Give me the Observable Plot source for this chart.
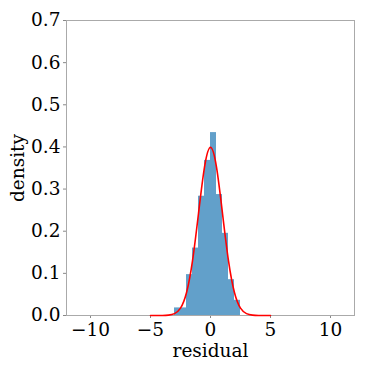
<!DOCTYPE html>
<html><head><meta charset="utf-8">
<script src="https://cdn.jsdelivr.net/npm/d3@7"></script>
<script src="https://cdn.jsdelivr.net/npm/@observablehq/plot@0.6"></script>
<style>
body{margin:0;background:#fff;}
</style>
</head><body>
<div id="chart"></div>
<script>
const binStart = [-3, -2.5, -2, -1.5, -1, -0.5, 0, 0.5, 1, 1.5, 2];
const binEnd   = [-2.5, -2, -1.5, -1, -0.5, 0, 0.5, 1, 1.5, 2, 2.5];
const binDensity = [0.018, 0.018, 0.097, 0.16, 0.283, 0.368, 0.434, 0.287, 0.195, 0.085, 0.036];

const curveX = [-5, -4.5, -4, -3.5, -3, -2.5, -2, -1.5, -1, -0.5, 0, 0.5, 1, 1.5, 2, 2.5, 3, 3.5, 4, 4.5, 5];
const curveY = [0.0000, 0.0000, 0.0001, 0.0009, 0.0044, 0.0175, 0.054, 0.1295, 0.242, 0.352, 0.399, 0.352, 0.242, 0.1295, 0.054, 0.0175, 0.0044, 0.0009, 0.0001, 0.0000, 0.0000];

const xTicks = [-10, -5, 0, 5, 10];
const yTicks = [0, 0.1, 0.2, 0.3, 0.4, 0.5, 0.6, 0.7];

const bins = binStart.map((s, i) => ({x1: s, x2: binEnd[i], y: binDensity[i]}));
const curve = curveX.map((x, i) => ({x, y: curveY[i]}));

const chart = Plot.plot({
  width: 369, height: 368,
  marginLeft: 66, marginRight: 15, marginTop: 20, marginBottom: 53,
  style: {fontFamily: "'DejaVu Serif', serif", fontSize: "18.5px", color: "#000", background: "#fff"},
  x: {domain: [-12, 12], ticks: xTicks, tickFormat: d => d < 0 ? "\u2212" + Math.abs(d) : String(d), label: "residual", labelArrow: "none", labelAnchor: "center", labelOffset: 41, tickSize: 3, tickPadding: 4},
  y: {domain: [0, 0.7], ticks: yTicks, tickFormat: d => d.toFixed(1), label: "density", labelArrow: "none", labelAnchor: "center", labelOffset: 56, tickSize: 3, tickPadding: 3},
  marks: [
    Plot.frame({stroke: "#aaa", strokeWidth: 1}),
    Plot.rectY(bins, {x1: "x1", x2: "x2", y: "y", fill: "#1f77b4", fillOpacity: 0.7, inset: 0}),
    Plot.line(curve, {x: "x", y: "y", stroke: "red", strokeWidth: 1.6, curve: "natural"})
  ]
});
document.getElementById("chart").appendChild(chart);
const s = d3.select(chart);
s.selectAll("text").attr("font-size", "18.5px").attr("font-family", "'DejaVu Serif', serif").attr("fill", "#000");
s.selectAll("[aria-label$='axis label'] text").each(function(){ this.textContent = this.textContent.replace(/\s*[\u2192\u2191\u2190\u2193]\s*/g, ""); });
s.selectAll("[aria-label$='tick'] path").attr("stroke", "#888");
</script>
</body></html>
